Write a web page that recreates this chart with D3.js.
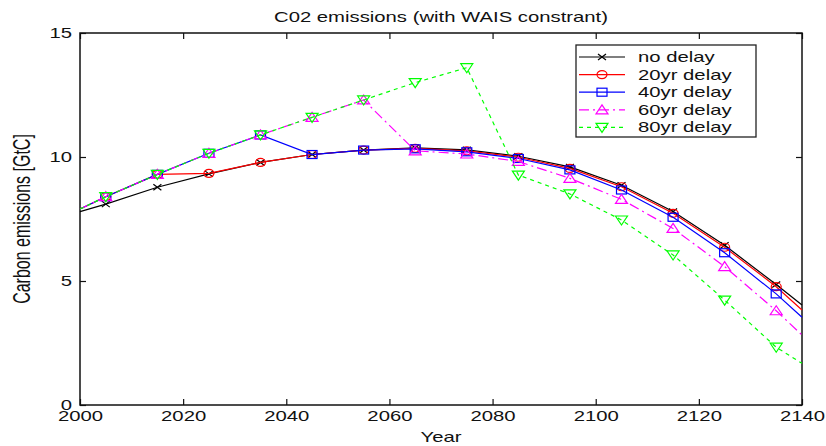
<!DOCTYPE html>
<html>
<head>
<meta charset="utf-8">
<script src="https://cdn.jsdelivr.net/npm/d3@7"></script>
<style>
	body { margin: 0; background: #fff; }
	text { font-family: "Liberation Sans", Arial, sans-serif; fill: #111; }
</style>
</head>
<body>
<svg id="chart" width="826" height="446"></svg>
<script>
// data
var years = [2000, 2005, 2015, 2025, 2035, 2045, 2055, 2065, 2075, 2085, 2095, 2105, 2115, 2125, 2135, 2140];
var noDelay = [7.8, 8.1, 8.78, 9.32, 9.78, 10.1, 10.28, 10.37, 10.29, 10.03, 9.6, 8.86, 7.8, 6.44, 4.86, 4.03];
var delay20 = [7.9, 8.4, 9.3, 9.34, 9.78, 10.1, 10.28, 10.35, 10.25, 9.99, 9.54, 8.8, 7.73, 6.36, 4.77, 3.83];
var delay40 = [7.9, 8.4, 9.3, 10.15, 10.89, 10.1, 10.28, 10.33, 10.21, 9.94, 9.48, 8.67, 7.57, 6.14, 4.48, 3.54];
var delay60 = [7.9, 8.4, 9.3, 10.15, 10.89, 11.6, 12.3, 10.25, 10.12, 9.82, 9.14, 8.29, 7.12, 5.58, 3.8, 2.82];
var delay80 = [7.9, 8.4, 9.3, 10.15, 10.89, 11.6, 12.3, 13.0, 13.6, 9.27, 8.51, 7.46, 6.05, 4.23, 2.33, 1.68];
var seriesNames = ['no delay', '20yr delay', '40yr delay', '60yr delay', '80yr delay'];
var xTicks = [2000, 2020, 2040, 2060, 2080, 2100, 2120, 2140];
var yTicks = [0, 5, 10, 15];

var stretch = 1.45;   // the original picture is squeezed out sideways
var left = 80, right = 802, top_ = 33, bottom = 405;

var series = [
	{name: seriesNames[0], values: noDelay, color: '#000000', dash: null, marker: 'x'},
	{name: seriesNames[1], values: delay20, color: '#ff0000', dash: null, marker: 'circle'},
	{name: seriesNames[2], values: delay40, color: '#0000ff', dash: null, marker: 'square'},
	{name: seriesNames[3], values: delay60, color: '#ff00ff', dash: '10,4,2,4', marker: 'up'},
	{name: seriesNames[4], values: delay80, color: '#00ff00', dash: '4,4', marker: 'down'}
];

var svg = d3.select('#chart');

var x = d3.scaleLinear().domain([2000, 2140]).range([left, right]);
var y = d3.scaleLinear().domain([0, 15]).range([bottom, top_]);

function drawMarker(g, type, color){
	if(type == 'x'){
		g.append('path').attr('d', 'M-4,-3L4,3M-4,3L4,-3');
	}else if(type == 'circle'){
		g.append('ellipse').attr('rx', 5).attr('ry', 4);
	}else if(type == 'square'){
		g.append('rect').attr('x', -5).attr('y', -4).attr('width', 10).attr('height', 8);
	}else if(type == 'up'){
		g.append('path').attr('d', 'M0,-5L6,4L-6,4Z');
	}else if(type == 'down'){
		g.append('path').attr('d', 'M0,5L6,-4L-6,-4Z');
	}
	g.selectAll('*')
		.attr('fill', 'none')
		.attr('stroke', color)
		.attr('stroke-width', 1.2);
}

function stretchText(sel){
	sel.attr('transform', function(){
		var t = d3.select(this).attr('transform');
		return (t ? t + ' ' : '') + `scale(${stretch},1)`;
	});
}

// axes: ticks pointing in, no labels on top/right
var xAxis = d3.axisBottom(x).tickValues(xTicks).tickFormat(d3.format('d'))
	.tickSizeInner(-6).tickSizeOuter(0).tickPadding(6);
var yAxis = d3.axisLeft(y).tickValues(yTicks).tickFormat(d3.format('d'))
	.tickSizeInner(-6).tickSizeOuter(0).tickPadding(5.5);

var gx = svg.append('g').attr('transform', `translate(0,${bottom})`).call(xAxis);
var gy = svg.append('g').attr('transform', `translate(${left},0)`).call(yAxis);
svg.append('g').attr('transform', `translate(0,${top_})`)
	.call(d3.axisTop(x).tickValues(xTicks).tickSizeInner(-6).tickSizeOuter(0).tickFormat(''));
svg.append('g').attr('transform', `translate(${right},0)`)
	.call(d3.axisRight(y).tickValues(yTicks).tickSizeInner(-6).tickSizeOuter(0).tickFormat(''));

svg.selectAll('.domain').remove();
svg.selectAll('.tick line').attr('stroke', '#111').attr('stroke-width', 1.2);
svg.selectAll('.tick text')
	.style('font-size', '14px')
	.attr('fill', '#111')
	.style('font-family', '"Liberation Sans", Arial, sans-serif');
gx.selectAll('.tick text').call(stretchText);
gy.selectAll('.tick text').call(stretchText);

svg.append('rect')
	.attr('x', left).attr('y', top_)
	.attr('width', right - left).attr('height', bottom - top_)
	.attr('fill', 'none')
	.attr('stroke', '#111')
	.attr('stroke-width', 1.5);

// lines and markers
var line = d3.line()
	.x((d, i) => x(years[i]))
	.y(d => y(d));

series.forEach(function(s){
	svg.append('path')
		.datum(s.values)
		.attr('d', line)
		.attr('fill', 'none')
		.attr('stroke', s.color)
		.attr('stroke-width', 1.2)
		.attr('stroke-dasharray', s.dash);
	for(let i = 1; i < years.length - 1; i++){
		let g = svg.append('g')
			.attr('transform', `translate(${x(years[i])}, ${y(s.values[i])})`);
		drawMarker(g, s.marker, s.color);
	}
});

// title and axis labels
svg.append('text')
	.attr('transform', `translate(${(left + right) / 2}, 22)`)
	.attr('text-anchor', 'middle')
	.style('font-size', '14px')
	.text('C02 emissions (with WAIS constrant)')
	.call(stretchText);

svg.append('text')
	.attr('transform', `translate(${(left + right) / 2}, 442)`)
	.attr('text-anchor', 'middle')
	.style('font-size', '14px')
	.text('Year')
	.call(stretchText);

svg.append('text')
	.attr('transform', `translate(30, ${(top_ + bottom) / 2}) scale(${stretch},1) rotate(-90)`)
	.attr('text-anchor', 'middle')
	.style('font-size', '16px')
	.text('Carbon emissions [GtC]');

// legend
var legend = svg.append('g').attr('transform', 'translate(576, 45)');
legend.append('rect')
	.attr('width', 180).attr('height', 92)
	.attr('fill', '#fff')
	.attr('stroke', '#222')
	.attr('stroke-width', 1.3);

series.forEach(function(s, i){
	let row = legend.append('g').attr('transform', `translate(0, ${12 + i * 17.6})`);
	row.append('line')
		.attr('x1', 3).attr('x2', 49)
		.attr('stroke', s.color)
		.attr('stroke-width', 1.2)
		.attr('stroke-dasharray', s.dash);
	drawMarker(row.append('g').attr('transform', 'translate(26,0)'), s.marker, s.color);
	row.append('text')
		.attr('transform', 'translate(62, 5)')
		.style('font-size', '14px')
		.text(s.name)
		.call(stretchText);
});
</script>
</body>
</html>
